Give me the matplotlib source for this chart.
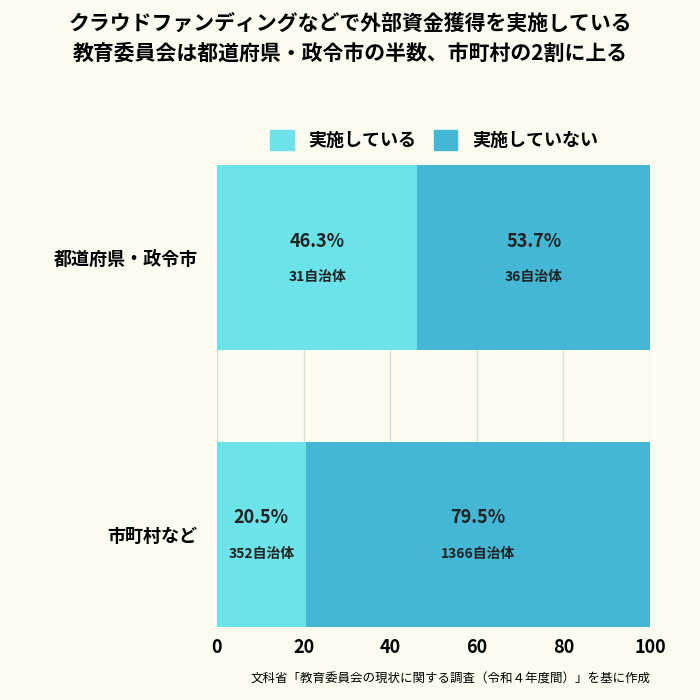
import matplotlib
matplotlib.use("Agg")
import matplotlib.pyplot as plt
from matplotlib.patches import Patch

plt.rcParams['font.family'] = 'Noto Sans CJK JP'

categories = ["市町村など", "都道府県・政令市"]
done_pct = [20.5, 46.3]
notdone_pct = [79.5, 53.7]
done_n = [352, 31]
notdone_n = [1366, 36]

bg = '#fbfbef'
c_done = '#6ce3e8'
c_not = '#44b7d5'

fig = plt.figure(figsize=(7, 7), dpi=100, facecolor=bg)
ax = fig.add_axes([217/700, 1-627/700, 433/700, 462/700], facecolor=bg)

y = range(len(categories))
h = 0.67
ax.barh(y, done_pct, height=h, color=c_done, zorder=2)
ax.barh(y, notdone_pct, left=done_pct, height=h, color=c_not, zorder=2)

for i in y:
    ax.text(done_pct[i]/2, i + 0.06, f"{done_pct[i]}%", ha='center', va='center',
            fontsize=13, fontweight='bold', color='#222222', zorder=3)
    ax.text(done_pct[i]/2, i - 0.07, f"{done_n[i]}自治体", ha='center', va='center',
            fontsize=10, fontweight='bold', color='#222222', zorder=3)
    mid = done_pct[i] + notdone_pct[i]/2
    ax.text(mid, i + 0.06, f"{notdone_pct[i]}%", ha='center', va='center',
            fontsize=13, fontweight='bold', color='#222222', zorder=3)
    ax.text(mid, i - 0.07, f"{notdone_n[i]}自治体", ha='center', va='center',
            fontsize=10, fontweight='bold', color='#222222', zorder=3)

ax.set_xlim(0, 100)
ax.set_ylim(-0.335, 1.335)
ax.set_xticks([0, 20, 40, 60, 80, 100])
ax.tick_params(axis='x', labelsize=13, length=0, pad=8)
for t in ax.get_xticklabels():
    t.set_fontweight('bold')
ax.set_yticks(list(y))
ax.set_yticklabels(categories, fontsize=13, fontweight='bold')
ax.tick_params(axis='y', length=0, pad=14)
ax.grid(axis='x', color='#dddddd', linewidth=1, zorder=0)
for s in ax.spines.values():
    s.set_visible(False)

fig.text(0.5, 0.945, "クラウドファンディングなどで外部資金獲得を実施している\n教育委員会は都道府県・政令市の半数、市町村の2割に上る",
         ha='center', va='center', fontsize=15, fontweight='bold', linespacing=1.5)

fig.legend(handles=[Patch(color=c_done, label='実施している'), Patch(color=c_not, label='実施していない')],
           loc='center', bbox_to_anchor=(0.62, 0.80), ncol=2, frameon=False,
           prop={'size': 13, 'weight': 'bold'}, handlelength=1.3, handleheight=1.3, columnspacing=1.0)

fig.text(0.93, 0.03, "文科省「教育委員会の現状に関する調査（令和４年度間）」を基に作成",
         ha='right', va='center', fontsize=9)

fig.savefig('out.png', dpi=100, facecolor=bg)
